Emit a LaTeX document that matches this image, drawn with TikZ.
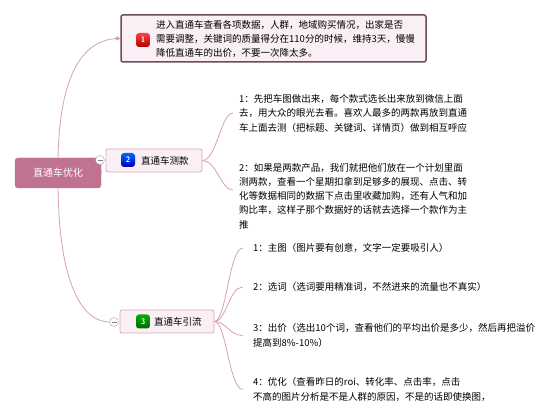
\documentclass[tikz,border=0pt]{standalone}
\usepackage{fontspec}
\setmainfont{Noto Sans CJK SC}
\usetikzlibrary{backgrounds}
\definecolor{rootfill}{RGB}{192,114,146}
\definecolor{boxfill}{RGB}{249,239,244}
\definecolor{boxline}{RGB}{217,165,188}
\definecolor{darkline}{RGB}{110,76,94}
\definecolor{linkline}{RGB}{214,160,184}
\tikzset{
    x=1pt,
    y=-1pt,
    root/.style = {
        draw=rootfill,
        fill=rootfill,
        rounded corners=3pt,
        minimum width=86pt,
        minimum height=30pt,
        text=white,
        font=\fontsize{10}{12}\selectfont
    },
    topic/.style = {
        draw=boxline,
        fill=boxfill,
        line width=0.8pt,
        rounded corners=2pt,
        minimum height=23pt
    },
    note/.style = {
        anchor=west,
        align=left,
        inner sep=0pt,
        font=\fontsize{9.5}{14.5}\selectfont
    },
    badge/.style = {
        rounded corners=3pt,
        minimum size=14pt,
        inner sep=0pt,
        text=white,
        font=\sffamily\bfseries\fontsize{8}{8}\selectfont
    },
    fold/.style = {
        draw=gray!70,
        fill=white,
        circle,
        minimum size=9pt,
        inner sep=0pt,
        path picture={\draw[gray] ([xshift=2pt]path picture bounding box.west) -- ([xshift=-2pt]path picture bounding box.east);}
    },
    link/.style = {
        draw=linkline,
        line width=0.8pt
    },
}

\begin{document}
\begin{tikzpicture}
        \useasboundingbox (0,0) rectangle (554,419);

        \node[root] (root) at (58,173) {直通车优化};

        \node[draw=darkline, fill=boxfill, line width=1.5pt, rounded corners=2pt, minimum width=305pt, minimum height=47pt] (box1) at (273.5,38.5) {};
        \node[badge, top color=red!75!white, bottom color=red!70!black] (badge1) at (143,40) {1};
        \node[note, font=\fontsize{9.5}{14.3}\selectfont] (t1) at (156,39) {进入直通车查看各项数据，人群，地域购买情况，出家是否\\需要调整，关键词的质量得分在110分的时候，维持3天，慢慢\\降低直通车的出价，不要一次降太多。};

        \node[topic, minimum width=96pt] (box2) at (154,160.5) {};
        \node[badge, top color=blue!60!cyan, bottom color=blue!70!black] (badge2) at (128,160) {2};
        \node[anchor=west, inner sep=0pt, font=\fontsize{9.5}{12}\selectfont] (label2) at (141,160.5) {直通车测款};
        \node[fold] (fold2) at (100,160) {};

        \node[topic, minimum width=94pt] (box3) at (167,321.5) {};
        \node[badge, top color=green!70!black, bottom color=green!40!black] (badge3) at (143,321.5) {3};
        \node[anchor=west, inner sep=0pt, font=\fontsize{9.5}{12}\selectfont] (label3) at (154,321.5) {直通车引流};
        \node[fold] (fold3) at (114,322) {};

        \node[note] (t21) at (239,113) {1：先把车图做出来，每个款式选长出来放到微信上面\\去，用大众的眼光去看。喜欢人最多的两款再放到直通\\车上面去测（把标题、关键词、详情页）做到相互呼应};
        \node[note, font=\fontsize{9.5}{14.3}\selectfont] (t22) at (239,196) {2：如果是两款产品，我们就把他们放在一个计划里面\\测两款，查看一个星期扣拿到足够多的展现、点击、转\\化等数据相同的数据下点击里收藏加购，还有人气和加\\购比率，这样子那个数据好的话就去选择一个款作为主\\推};

        \node[note] (t31) at (253,248) {1：主图（图片要有创意，文字一定要吸引人）};
        \node[note] (t32) at (253,287) {2：选词（选词要用精准词，不然进来的流量也不真实）};
        \node[note, font=\fontsize{9.5}{15.5}\selectfont] (t33) at (253,335.5) {3：出价（选出10个词，查看他们的平均出价是多少，然后再把溢价\\提高到8\%-10\%）};
        \node[note, font=\fontsize{9.5}{15.5}\selectfont] (t34) at (253,389.5) {4：优化（查看昨日的roi、转化率、点击率，点击\\不高的图片分析是不是人群的原因，不是的话即使换图，};

        \begin{scope}[on background layer]
            \path[link] (root.center) .. controls (57,80) and (80,38) .. (box1.west);
            \path[link] (root.center) .. controls (57,290) and (85,322) .. (fold3.west);
            \path[link] (root.east) -- (fold2);
            \path[link] (box2.east) .. controls +(14,0) and +(-12,0) .. ([xshift=-6pt]t21.west);
            \path[link] (box2.east) .. controls +(14,0) and +(-12,0) .. ([shift={(-6,-6)}]t22.west);
            \path[link] (box3.east) .. controls +(12,0) and +(-14,0) .. ([xshift=-10pt]t31.west);
            \path[link] (box3.east) .. controls +(12,0) and +(-14,0) .. ([xshift=-10pt]t32.west);
            \path[link] (box3.east) .. controls +(12,0) and +(-14,0) .. ([xshift=-10pt]t33.west);
            \path[link] (box3.east) .. controls +(12,0) and +(-14,0) .. ([xshift=-10pt]t34.west);
        \end{scope}
        \fill[linkline] ([xshift=-3pt]box1.west) circle (2pt);
    \end{tikzpicture}
\end{document}
